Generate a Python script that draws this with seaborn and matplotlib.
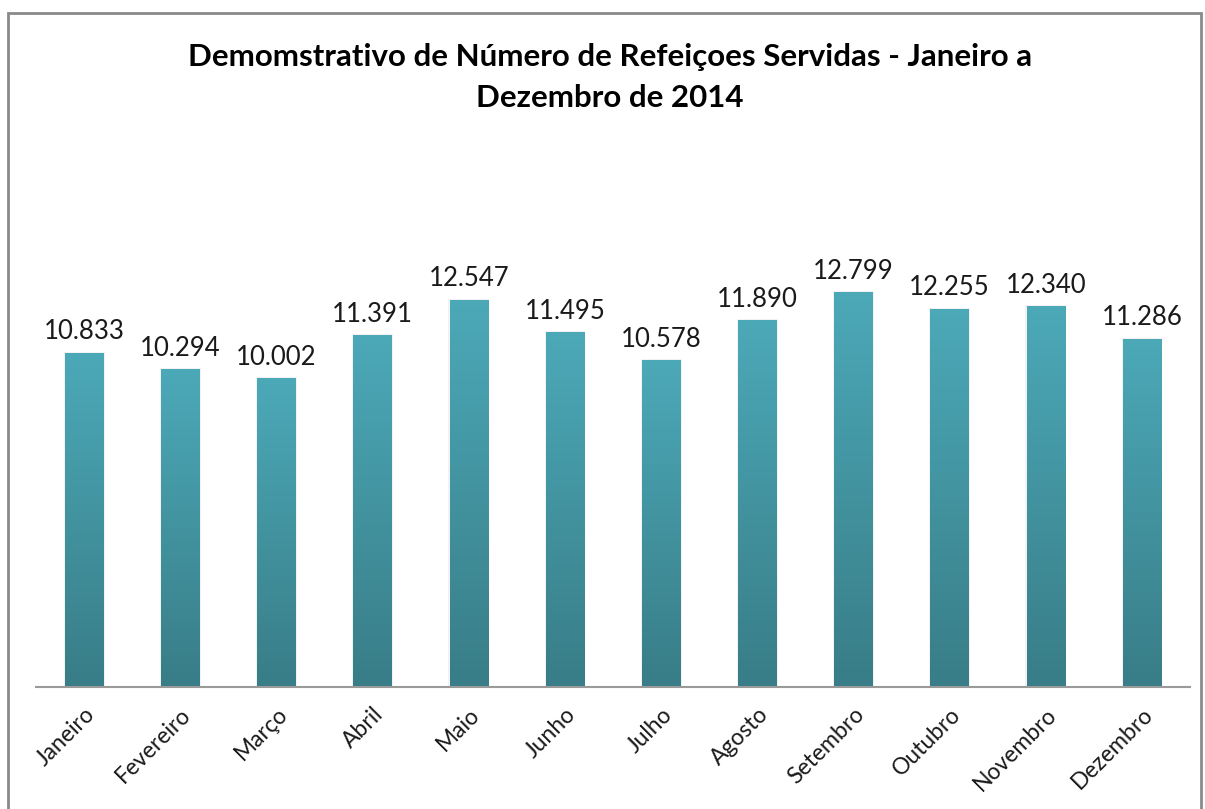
import numpy as np
import pandas as pd
import matplotlib.pyplot as plt
import seaborn as sns
from matplotlib.colors import LinearSegmentedColormap
from matplotlib.patches import Rectangle

meses = ['Janeiro', 'Fevereiro', 'Março', 'Abril', 'Maio', 'Junho',
         'Julho', 'Agosto', 'Setembro', 'Outubro', 'Novembro', 'Dezembro']
refeicoes = [10833, 10294, 10002, 11391, 12547, 11495,
             10578, 11890, 12799, 12255, 12340, 11286]
rotulos = ['10.833', '10.294', '10.002', '11.391', '12.547', '11.495',
           '10.578', '11.890', '12.799', '12.255', '12.340', '11.286']

titulo = 'Demomstrativo de Número de Refeiçoes Servidas - Janeiro a\nDezembro de 2014'

sns.set_theme(style="white")
plt.rcParams['font.family'] = ['Lato', 'DejaVu Sans']

df = pd.DataFrame({'Mes': meses, 'Refeicoes': refeicoes})

fig = plt.figure(figsize=(12.05, 8.09), dpi=100)
ax = fig.add_axes([0.030, 0.1508, 0.9576, 0.6106])

sns.barplot(data=df, x='Mes', y='Refeicoes', color='#46A0AF', width=0.4, ax=ax)

# gradiente vertical nas barras (mais claro em cima)
cmap = LinearSegmentedColormap.from_list('grad', ['#387D87', '#4CA9B8'])
grad = np.linspace(0, 1, 256).reshape(-1, 1)
for p in ax.patches:
    x0, y0 = p.get_x(), p.get_y()
    w, h = p.get_width(), p.get_height()
    # sombra leve
    ax.add_patch(Rectangle((x0 - 0.012, y0), w + 0.024, h + 30, facecolor='#000000',
                           alpha=0.05, edgecolor='none', zorder=1))
    p.set_facecolor('none')
    p.set_edgecolor('none')
    im = ax.imshow(grad, extent=[x0, x0 + w, y0, y0 + h], origin='lower',
                   cmap=cmap, aspect='auto', zorder=2)
    im.set_clip_path(p)

for i, (v, lab) in enumerate(zip(refeicoes, rotulos)):
    ax.annotate(lab, (i, v), xytext=(0, 6), textcoords='offset points',
                ha='center', va='bottom', fontsize=18.5, color='#1a1a1a')

ax.set_xlim(-0.5, 11.5)
ax.set_ylim(0, 16000)
ax.set_xlabel('')
ax.set_ylabel('')
ax.set_yticks([])
for s in ['top', 'left', 'right']:
    ax.spines[s].set_visible(False)
ax.spines['bottom'].set_color('#9a9a9a')
ax.spines['bottom'].set_linewidth(1.5)
ax.tick_params(axis='x', length=0, pad=12)
plt.setp(ax.get_xticklabels(), rotation=45, ha='right', rotation_mode='anchor',
         fontsize=16.5, color='#1a1a1a')

fig.text(0.506, 0.947, titulo, ha='center', va='top', fontsize=22.5,
         fontweight='bold', color='black', linespacing=1.55)

# moldura do gráfico
fig.add_artist(Rectangle((8 / 1205, -0.05), 1193 / 1205, 1.05 - 13 / 809,
                         transform=fig.transFigure, fill=False,
                         edgecolor='#8a8a8a', linewidth=2))

fig.savefig('out.png', dpi=100, facecolor='white')
